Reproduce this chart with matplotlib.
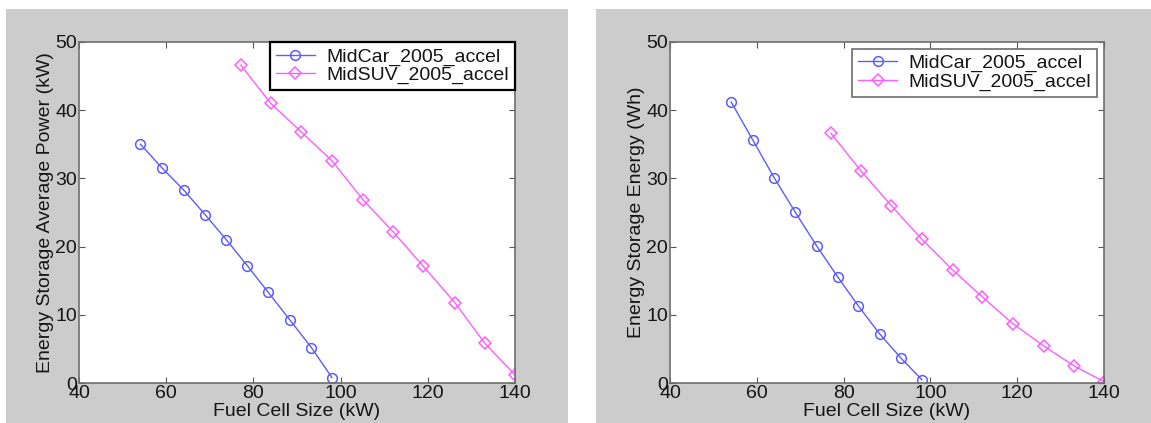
import matplotlib
matplotlib.use('Agg')
import matplotlib.pyplot as plt
from matplotlib.patches import Rectangle

plt.rcParams['font.family'] = ['Liberation Sans', 'DejaVu Sans']

# Данные
car_x = [54.1, 59.1, 64.0, 68.9, 73.8, 78.6, 83.4, 88.3, 93.3, 98.0]
suv_x = [77.1, 84.0, 91.0, 98.0, 105.1, 112.0, 119.0, 126.2, 133.1, 140.0]

car_power = [35.0, 31.5, 28.3, 24.7, 21.0, 17.2, 13.3, 9.3, 5.2, 0.8]
suv_power = [46.6, 41.0, 36.8, 32.6, 26.9, 22.2, 17.1, 11.8, 5.8, 1.2]

car_energy = [41.2, 35.6, 30.1, 25.0, 20.1, 15.6, 11.3, 7.2, 3.6, 0.5]
suv_energy = [36.6, 31.1, 26.0, 21.1, 16.6, 12.6, 8.7, 5.4, 2.5, 0.2]

labels = ['MidCar_2005_accel', 'MidSUV_2005_accel']
xticks = [40, 60, 80, 100, 120, 140]
yticks = [0, 10, 20, 30, 40, 50]

W, H = 1151, 423
fig = plt.figure(figsize=(W / 100, H / 100), dpi=100)
fig.patch.set_facecolor('white')

# серые подложки как в MATLAB
for x0, x1 in [(6, 568), (596, W)]:
    fig.patches.append(Rectangle((x0 / W, 0), (x1 - x0) / W, (H - 9) / H,
                                 transform=fig.transFigure, facecolor='#cccccc',
                                 edgecolor='none', zorder=-10))

blue = '#5c5cff'
pink = '#ff5cff'
txt = '#151515'


def make_panel(left, right, ycar, ysuv, ylabel, legend_black):
    ax = fig.add_axes([left / W, (H - 383) / H, (right - left) / W, 341 / H])
    ax.set_facecolor('white')
    ax.plot(car_x, ycar, '-o', color=blue, lw=1.0, ms=7, mfc='none', mew=1.1,
            label=labels[0])
    ax.plot(suv_x, ysuv, '-D', color=pink, lw=1.0, ms=6, mfc='none', mew=1.1,
            label=labels[1])
    ax.set_xlim(40, 140)
    ax.set_ylim(0, 50)
    ax.set_xticks(xticks)
    ax.set_yticks(yticks)
    ax.tick_params(direction='in', top=True, right=True, length=4, width=0.8,
                   color='#555555', labelsize=14, labelcolor=txt, pad=1.5)
    for s in ax.spines.values():
        s.set_color('#6e6e6e')
        s.set_linewidth(1.2)
    ax.set_xlabel('Fuel Cell Size (kW)', fontsize=14, color=txt, labelpad=1)
    ax.set_ylabel(ylabel, fontsize=14, color=txt, labelpad=1)
    if legend_black:
        leg = ax.legend(loc='upper right', borderaxespad=0, fancybox=False,
                        framealpha=1, edgecolor='black', fontsize=14,
                        numpoints=1, handlelength=2.0, handletextpad=0.6,
                        borderpad=0.3, labelspacing=0.05)
        leg.get_frame().set_linewidth(1.6)
    else:
        leg = ax.legend(loc='upper right', borderaxespad=0.35, fancybox=False,
                        framealpha=1, edgecolor='#777777', fontsize=14,
                        numpoints=1, handlelength=2.0, handletextpad=0.6,
                        borderpad=0.3, labelspacing=0.05)
        leg.get_frame().set_linewidth(1.3)
    for t in leg.get_texts():
        t.set_color(txt)
    return ax


make_panel(79, 515, car_power, suv_power, 'Energy Storage Average Power (kW)', True)
make_panel(670, 1104, car_energy, suv_energy, 'Energy Storage Energy (Wh)', False)

fig.savefig('out.png', dpi=100, facecolor=fig.get_facecolor())
